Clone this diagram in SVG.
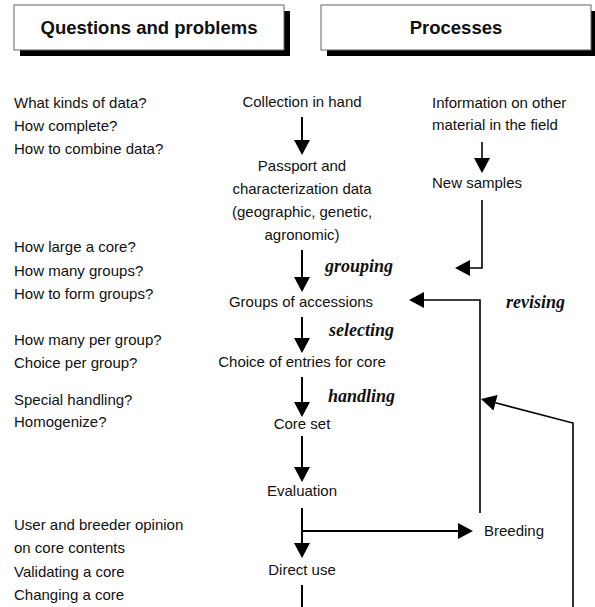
<svg xmlns="http://www.w3.org/2000/svg" width="595" height="607" viewBox="0 0 595 607">
<style>
.hdr{fill:#fff;stroke:#666;stroke-width:1}
.shd{fill:#000}
.ht{font-family:"Liberation Sans",Arial,sans-serif;font-weight:bold;font-size:18.5px;fill:#111;text-anchor:middle}
.t{font-family:"Liberation Sans",Arial,sans-serif;font-size:15px;fill:#111}
.c{text-anchor:middle}
.lbl{font-family:"Liberation Serif","Times New Roman",serif;font-weight:bold;font-style:italic;font-size:18px;fill:#111}
.ln{fill:none;stroke:#000;stroke-width:2}
.ln2{fill:none;stroke:#000;stroke-width:1.6}
.a{marker-end:url(#ah)}
</style>
<defs>
<marker id="ah" markerUnits="userSpaceOnUse" markerWidth="16" markerHeight="16" refX="0" refY="8" orient="auto" overflow="visible">
<path d="M0,0 L15,8 L0,16 Z" fill="#000"/>
</marker>
</defs>
<rect width="595" height="607" fill="#fff"/>
<g id="header-questions">
<rect class="shd" x="20" y="11" width="270" height="45"/>
<rect class="hdr" x="14" y="5" width="270" height="45"/>
<text class="ht" x="149" y="34">Questions and problems</text>
</g>
<g id="header-processes">
<rect class="shd" x="327" y="11" width="270" height="45"/>
<rect class="hdr" x="321" y="5" width="270" height="45"/>
<text class="ht" x="456" y="34">Processes</text>
</g>
<g id="questions">
<text class="t" x="14" y="108">What kinds of data?</text>
<text class="t" x="14" y="131">How complete?</text>
<text class="t" x="14" y="154">How to combine data?</text>
<text class="t" x="14" y="252">How large a core?</text>
<text class="t" x="14" y="276">How many groups?</text>
<text class="t" x="14" y="299">How to form groups?</text>
<text class="t" x="14" y="345">How many per group?</text>
<text class="t" x="14" y="368">Choice per group?</text>
<text class="t" x="14" y="405">Special handling?</text>
<text class="t" x="14" y="427">Homogenize?</text>
<text class="t" x="14" y="530">User and breeder opinion</text>
<text class="t" x="14" y="553">on core contents</text>
<text class="t" x="14" y="577">Validating a core</text>
<text class="t" x="14" y="600">Changing a core</text>
</g>
<g id="collection"><text class="t c" x="302" y="107">Collection in hand</text></g>
<g id="passport">
<text class="t c" x="302" y="171">Passport and</text>
<text class="t c" x="302" y="194">characterization data</text>
<text class="t c" x="302" y="217">(geographic, genetic,</text>
<text class="t c" x="302" y="240">agronomic)</text>
</g>
<g id="info">
<text class="t" x="432" y="108">Information on other</text>
<text class="t" x="432" y="130">material in the field</text>
</g>
<g id="new-samples"><text class="t" x="432" y="188">New samples</text></g>
<g id="groups"><text class="t c" x="301" y="307">Groups of accessions</text></g>
<g id="choice"><text class="t c" x="302" y="367">Choice of entries for core</text></g>
<g id="core-set"><text class="t c" x="302" y="429">Core set</text></g>
<g id="evaluation"><text class="t c" x="302" y="496">Evaluation</text></g>
<g id="breeding"><text class="t" x="484" y="536">Breeding</text></g>
<g id="direct-use"><text class="t c" x="302" y="575">Direct use</text></g>
<g id="connectors">
<path class="ln a" d="M302,117 V140"/>
<path class="ln2 a" d="M482,142 V158"/>
<path class="ln2 a" d="M482,200 V268 H470"/>
<path class="ln a" d="M302,250 V277"/>
<path class="ln2 a" d="M480,513 V300 H424"/>
<path class="ln a" d="M302,317 V338"/>
<path class="ln a" d="M302,377 V402"/>
<path class="ln2 a" d="M573,607 V423 L495.5,402.8"/>
<path class="ln a" d="M302,436 V467"/>
<path class="ln a" d="M302,508 V543"/>
<path class="ln a" d="M302,531 H458"/>
<path class="ln" d="M302,585 V607"/>
<text class="lbl" x="325" y="272">grouping</text>
<text class="lbl" x="506" y="308">revising</text>
<text class="lbl" x="329" y="336">selecting</text>
<text class="lbl" x="328" y="402">handling</text>
</g>
</svg>
